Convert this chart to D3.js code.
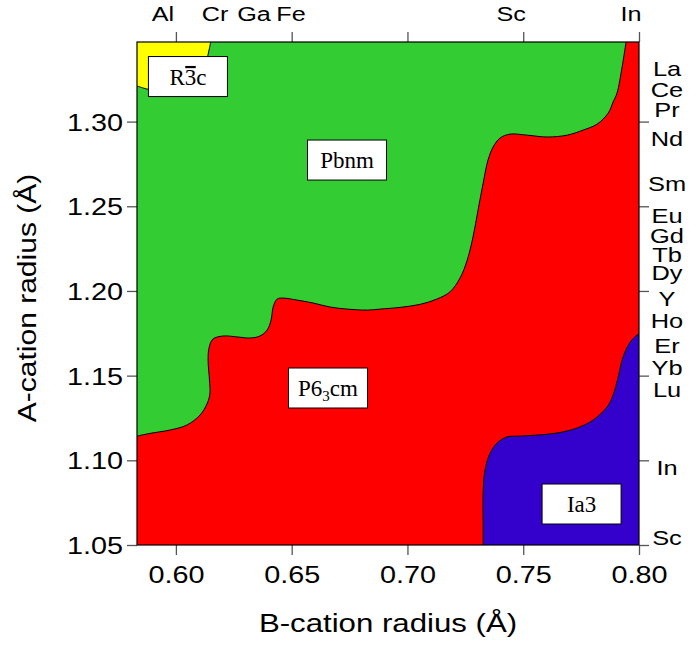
<!DOCTYPE html>
<html>
<head>
<meta charset="utf-8">
<script src="https://cdn.jsdelivr.net/npm/d3@7"></script>
<style>
  body { margin: 0; background: #fff; }
  svg { display: block; }
</style>
</head>
<body>
<svg id="chart" width="690" height="646"></svg>
<script>
// Axis ranges (ionic radii, Å)
const xDomain = [0.5832, 0.80];
const yDomain = [1.05, 1.347];
const xTicks = [0.60, 0.65, 0.70, 0.75, 0.80];
const yTicks = [1.05, 1.10, 1.15, 1.20, 1.25, 1.30];

// B-site cations marked along the top axis
const bCations = [
  { name: "Al", r: 0.5944 }, { name: "Cr", r: 0.6169 }, { name: "Ga", r: 0.6337 },
  { name: "Fe", r: 0.6497 }, { name: "Sc", r: 0.7448 }, { name: "In", r: 0.7966 }
];

// A-site cations marked along the right axis
const aCations = [
  { name: "La", r: 1.3314 }, { name: "Ce", r: 1.3188 }, { name: "Pr", r: 1.3071 },
  { name: "Nd", r: 1.2898 }, { name: "Sm", r: 1.2632 }, { name: "Eu", r: 1.2442 },
  { name: "Gd", r: 1.2324 }, { name: "Tb", r: 1.2212 }, { name: "Dy", r: 1.2107 },
  { name: "Y", r: 1.1956 }, { name: "Ho", r: 1.1825 }, { name: "Er", r: 1.1676 },
  { name: "Yb", r: 1.1545 }, { name: "Lu", r: 1.1418 }, { name: "In", r: 1.0955 },
  { name: "Sc", r: 1.0541 }
];

// Pbnm / P6_3cm phase boundary, [B radius, A radius]
const pbnmBoundary = [
  [0.5832, 1.1143], [0.5888, 1.1159], [0.5975, 1.1179], [0.6047, 1.1208], [0.6104, 1.1267],
  [0.6136, 1.1338], [0.6147, 1.1397], [0.6145, 1.1474], [0.6139, 1.1592], [0.6143, 1.1663],
  [0.6160, 1.1716], [0.6204, 1.1734], [0.6268, 1.1728], [0.6320, 1.1722], [0.6363, 1.1734],
  [0.6394, 1.1769], [0.6411, 1.1828], [0.6420, 1.1905], [0.6437, 1.1952], [0.6463, 1.1958],
  [0.6523, 1.1946], [0.6592, 1.1929], [0.6666, 1.1905], [0.6739, 1.1893], [0.6826, 1.1887],
  [0.6882, 1.1893], [0.6968, 1.1903], [0.7055, 1.1921], [0.7127, 1.1952], [0.7184, 1.1995],
  [0.7227, 1.2076], [0.7258, 1.2182], [0.7283, 1.2318], [0.7305, 1.2478], [0.7327, 1.2637],
  [0.7348, 1.2773], [0.7370, 1.2850], [0.7400, 1.2903], [0.7443, 1.2926], [0.7517, 1.2920],
  [0.7603, 1.2909], [0.7690, 1.2920], [0.7759, 1.2950], [0.7819, 1.2985], [0.7867, 1.3050],
  [0.7888, 1.3115], [0.7905, 1.3168], [0.7927, 1.3322], [0.7944, 1.3470]
];

// P6_3cm / Ia3 phase boundary
const ia3Boundary = [
  [0.7327, 1.0500], [0.7327, 1.0648], [0.7327, 1.0807], [0.7335, 1.0943], [0.7357, 1.1043],
  [0.7387, 1.1102], [0.7430, 1.1138], [0.7486, 1.1143], [0.7560, 1.1149], [0.7646, 1.1161],
  [0.7733, 1.1191], [0.7802, 1.1238], [0.7862, 1.1315], [0.7888, 1.1385], [0.7910, 1.1492],
  [0.7931, 1.1610], [0.7962, 1.1698], [0.7992, 1.1740], [0.8000, 1.1746]
];

// R-3c / Pbnm phase boundary
const r3cBoundary = [
  [0.6150, 1.3470], [0.6143, 1.3422], [0.6120, 1.3320], [0.6040, 1.3230], [0.5930, 1.3195],
  [0.5884, 1.3190], [0.5860, 1.3198], [0.5832, 1.3210]
];

// Phase labels: segments of each name and where the label sits
const phaseLabels = [
  { parts: [{ t: "R" }, { t: "3", bar: true }, { t: "c" }], x: 0.6052, y: 1.3266 },
  { parts: [{ t: "Pbnm" }], x: 0.6739, y: 1.2773 },
  { parts: [{ t: "P6" }, { t: "3", sub: true }, { t: "cm" }], x: 0.6657, y: 1.1427 },
  { parts: [{ t: "Ia3" }], x: 0.7752, y: 1.0742 }
];

const colors = { pbnm: "#33cc33", p63cm: "#ff0000", ia3: "#3300cc", r3c: "#ffff00" };

const margin = { left: 137, right: 51, top: 42, bottom: 101 };
const W = 690, H = 646;
const svg = d3.select("#chart");

const x = d3.scaleLinear().domain(xDomain).range([margin.left, W - margin.right]);
const y = d3.scaleLinear().domain(yDomain).range([H - margin.bottom, margin.top]);

const sansFont = "'Liberation Sans', Arial, Helvetica, sans-serif";
const serifFont = "'Liberation Serif', 'Times New Roman', Times, serif";
const stretch = 1.2;

svg.append("defs").append("clipPath").attr("id", "plot-clip")
  .append("rect")
  .attr("x", x(xDomain[0])).attr("y", y(yDomain[1]))
  .attr("width", x(xDomain[1]) - x(xDomain[0]))
  .attr("height", y(yDomain[0]) - y(yDomain[1]));

const plot = svg.append("g").attr("clip-path", "url(#plot-clip)");

const curve = d3.line().x(d => x(d[0])).y(d => y(d[1])).curve(d3.curveCatmullRom.alpha(0.5));
const pt = (a, b) => `L${x(a)},${y(b)}`;

// Pbnm fills the whole field, other phases are laid on top
plot.append("rect")
  .attr("x", x(xDomain[0])).attr("y", y(yDomain[1]))
  .attr("width", x(xDomain[1]) - x(xDomain[0]))
  .attr("height", y(yDomain[0]) - y(yDomain[1]))
  .attr("fill", colors.pbnm);

plot.append("path")
  .attr("d", curve(pbnmBoundary) + pt(xDomain[1], yDomain[1]) + pt(xDomain[1], yDomain[0]) + pt(xDomain[0], yDomain[0]) + "Z")
  .attr("fill", colors.p63cm);

plot.append("path")
  .attr("d", curve(ia3Boundary) + pt(xDomain[1], yDomain[0]) + "Z")
  .attr("fill", colors.ia3);

plot.append("path")
  .attr("d", curve(r3cBoundary) + pt(xDomain[0], yDomain[1]) + "Z")
  .attr("fill", colors.r3c);

[pbnmBoundary, ia3Boundary, r3cBoundary].forEach(b => {
  plot.append("path").attr("d", curve(b))
    .attr("fill", "none").attr("stroke", "#000").attr("stroke-width", 1);
});

// Axes
const tickLen = 10;
function styleAxis(g) {
  g.select(".domain").remove();
  g.selectAll(".tick line").attr("stroke", "#555").attr("stroke-width", 1.3);
}

svg.append("g")
  .attr("transform", `translate(0,${y(yDomain[0])})`)
  .call(d3.axisBottom(x).tickValues(xTicks).tickFormat(d3.format(".2f")).tickSize(tickLen))
  .call(styleAxis)
  .call(g => g.selectAll(".tick text")
    .attr("font-family", sansFont).attr("font-size", 24).attr("fill", "#000")
    .attr("y", 38.5).attr("dy", null)
    .attr("transform", `scale(${stretch},1)`));

svg.append("g")
  .attr("transform", `translate(${x(xDomain[0])},0)`)
  .call(d3.axisLeft(y).tickValues(yTicks).tickFormat(d3.format(".2f")).tickSize(tickLen))
  .call(styleAxis)
  .call(g => g.selectAll(".tick text")
    .attr("font-family", sansFont).attr("font-size", 24).attr("fill", "#000")
    .attr("x", -14 / stretch).attr("y", 8.6).attr("dy", null)
    .attr("transform", `scale(${stretch},1)`));

svg.append("g")
  .attr("transform", `translate(0,${y(yDomain[1])})`)
  .call(d3.axisTop(x).tickValues(xTicks).tickFormat("").tickSize(tickLen))
  .call(styleAxis);

svg.append("g")
  .attr("transform", `translate(${x(xDomain[1])},0)`)
  .call(d3.axisRight(y).tickValues(yTicks).tickFormat("").tickSize(tickLen))
  .call(styleAxis);

// Plot frame
svg.append("rect")
  .attr("x", x(xDomain[0])).attr("y", y(yDomain[1]))
  .attr("width", x(xDomain[1]) - x(xDomain[0]))
  .attr("height", y(yDomain[0]) - y(yDomain[1]))
  .attr("fill", "none").attr("stroke", "#000").attr("stroke-width", 1.2);

// Cation names
svg.append("g").selectAll("text").data(bCations).join("text")
  .attr("transform", d => `translate(${x(d.r)},21) scale(${stretch},1)`)
  .attr("text-anchor", "middle")
  .attr("font-family", sansFont).attr("font-size", 21)
  .text(d => d.name);

svg.append("g").selectAll("text").data(aCations).join("text")
  .attr("transform", d => `translate(667,${y(d.r) + 7.3}) scale(1.24,1)`)
  .attr("text-anchor", "middle")
  .attr("font-family", sansFont).attr("font-size", 20.5)
  .text(d => d.name);

// Axis titles
svg.append("text")
  .attr("transform", `translate(${(x(xDomain[0]) + x(xDomain[1])) / 2},632) scale(${stretch},1)`)
  .attr("text-anchor", "middle")
  .attr("font-family", sansFont).attr("font-size", 26)
  .text("B-cation radius (Å)");

svg.append("text")
  .attr("transform", `translate(36,298) rotate(-90) scale(${stretch},1)`)
  .attr("text-anchor", "middle")
  .attr("font-family", sansFont).attr("font-size", 25)
  .text("A-cation radius (Å)");

// Phase name boxes
const boxW = 79, boxH = 40;
phaseLabels.forEach(p => {
  const cx = x(p.x), cy = y(p.y);
  const g = svg.append("g");
  g.append("rect")
    .attr("x", cx - boxW / 2).attr("y", cy - boxH / 2)
    .attr("width", boxW).attr("height", boxH)
    .attr("fill", "#fff").attr("stroke", "#000").attr("stroke-width", 1);
  const t = g.append("text")
    .attr("x", cx).attr("y", cy + 8)
    .attr("text-anchor", "middle")
    .attr("font-family", serifFont).attr("font-size", 23);
  p.parts.forEach(s => {
    const ts = t.append("tspan").text(s.t);
    if (s.sub) ts.attr("font-size", 15).attr("dy", 5);
    else if (t.selectAll("tspan").size() > 1 && p.parts.some(q => q.sub)) ts.attr("dy", -5);
  });
  // bar over the rotoinversion digit
  let idx = 0;
  p.parts.forEach(s => {
    if (s.bar) {
      const node = t.node();
      const a = node.getStartPositionOfChar(idx);
      const b = node.getEndPositionOfChar(idx);
      g.append("line")
        .attr("x1", a.x + 0.5).attr("x2", b.x - 0.5)
        .attr("y1", cy - 9.5).attr("y2", cy - 9.5)
        .attr("stroke", "#000").attr("stroke-width", 2.2);
    }
    idx += s.t.length;
  });
});
</script>
</body>
</html>
